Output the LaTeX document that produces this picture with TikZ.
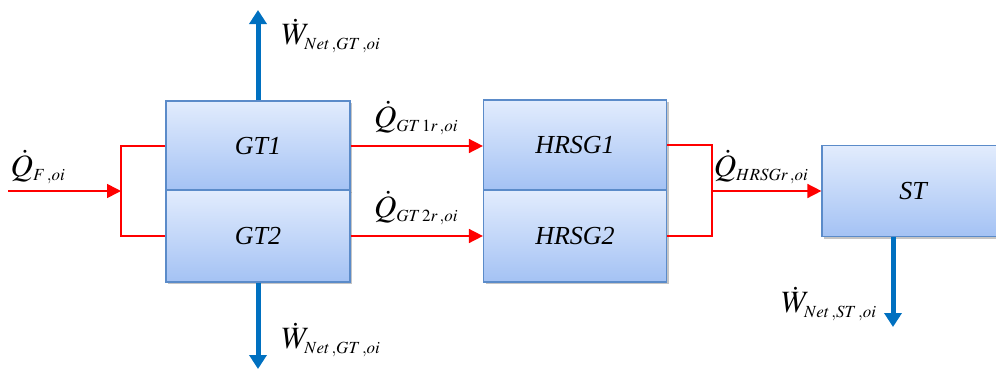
\documentclass[tikz,border=0pt]{standalone}
\usepackage{mathptmx}
\usepackage{fontspec}
\setmainfont{Liberation Serif}
\DeclareMathSizes{31}{31}{17}{12}
\usetikzlibrary{arrows.meta,shadows,calc}
\definecolor{boxtop}{HTML}{E2ECFD}
\definecolor{boxbot}{HTML}{A4C2F4}
\definecolor{boxline}{HTML}{5B8BC9}
\definecolor{workblue}{HTML}{0070C0}
\begin{document}
\begin{tikzpicture}[x=1pt,y=-1pt,
  unit/.style={rectangle, draw=boxline, line width=1.2pt, top color=boxtop, bottom color=boxbot,
    minimum width=184pt, inner sep=0pt, font=\fontsize{26}{30}\selectfont\itshape,
    drop shadow={shadow xshift=2pt, shadow yshift=-2pt, fill=black!45, opacity=0.5}},
  heat/.style={draw=red, line width=1.6pt},
  heatarrow/.style={heat, -{Triangle[length=14pt,width=14pt]}},
  work/.style={draw=workblue, line width=5pt, -{Triangle[length=14pt,width=17pt]}},
  lbl/.style={inner sep=0pt, font=\fontsize{31}{35}\selectfont}]
\useasboundingbox (0,0) rectangle (996,370);
% gas turbines
\node[unit, minimum height=90pt] (GT1) at (258,146) {GT1};
\node[unit, minimum height=92pt] (GT2) at (258,236) {GT2};
% heat recovery steam generators
\node[unit, minimum width=183pt, minimum height=90pt] (HRSG1) at (575,145) {HRSG1};
\node[unit, minimum width=183pt, minimum height=92pt] (HRSG2) at (575,236) {HRSG2};
% steam turbine
\node[unit, minimum width=182pt, minimum height=91pt] (ST) at (913,191) {ST};
% fuel input, split to both gas turbines
\coordinate (fin) at (8,191);
\coordinate (split) at (121,191);
\draw[heatarrow] (fin) -- (split);
\draw[heat] (GT1.west) -| (split) |- (GT2.west);
% exhaust heat to the HRSGs
\draw[heatarrow] (GT1.east) -- (GT1.east -| HRSG1.west);
\draw[heatarrow] (GT2.east) -- (GT2.east -| HRSG2.west);
% HRSG heat merged to the steam turbine
\coordinate (merge) at (712,191);
\draw[heat] (HRSG1.east) -| (merge) |- (HRSG2.east);
\draw[heatarrow] (merge) -- (merge -| ST.west);
% net work outputs
\coordinate (wtop) at (258,10);
\coordinate (wbot) at (258,369);
\coordinate (wst) at (893,327);
\draw[work] (GT1.north) -- (wtop);
\draw[work] (GT2.south) -- (wbot);
\draw[work] (wst |- ST.south) -- (wst);
% labels
\node[lbl] (lWt) at (331,36) {$\dot{W}_{Net\,,GT\,,oi}$};
\node[lbl] (lWb) at (331,340) {$\dot{W}_{Net\,,GT\,,oi}$};
\node[lbl] (lQF) at (38,167) {$\dot{Q}_{F\,,oi}$};
\node[lbl] (lQ1) at (416,118) {$\dot{Q}_{GT\,1r\,,oi}$};
\node[lbl] (lQ2) at (416,208) {$\dot{Q}_{GT\,2r\,,oi}$};
\node[lbl] (lQH) at (761,167) {$\dot{Q}_{HRSGr\,,oi}$};
\node[lbl] (lWs) at (829,304) {$\dot{W}_{Net\,,ST\,,oi}$};
\end{tikzpicture}
\end{document}
